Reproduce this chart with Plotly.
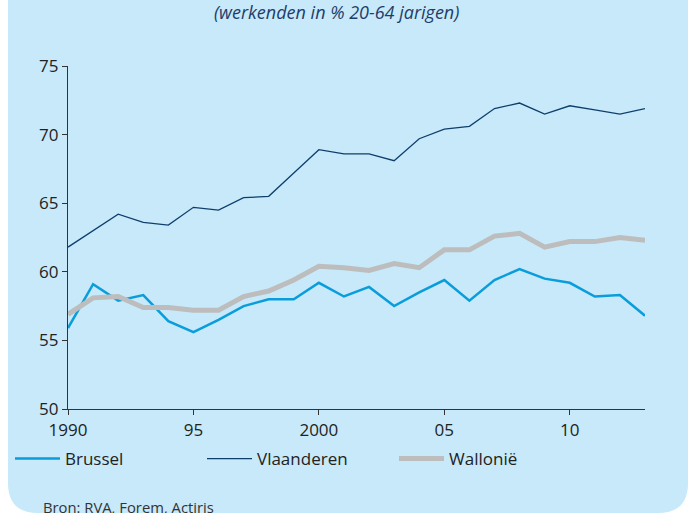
import plotly.graph_objects as go

years = list(range(1990, 2014))
brussel = [55.9, 59.1, 57.9, 58.3, 56.4, 55.6, 56.5, 57.5, 58.0, 58.0, 59.2, 58.2, 58.9, 57.5, 58.5, 59.4,
           57.9, 59.4, 60.2, 59.5, 59.2, 58.2, 58.3, 56.8]
vlaanderen = [61.8, 63.0, 64.2, 63.6, 63.4, 64.7, 64.5, 65.4, 65.5, 67.2, 68.9, 68.6, 68.6, 68.1, 69.7, 70.4,
              70.6, 71.9, 72.3, 71.5, 72.1, 71.8, 71.5, 71.9]
wallonie = [56.9, 58.1, 58.2, 57.4, 57.4, 57.2, 57.2, 58.2, 58.6, 59.4, 60.4, 60.3, 60.1, 60.6, 60.3, 61.6,
            61.6, 62.6, 62.8, 61.8, 62.2, 62.2, 62.5, 62.3]
x_tickvals = [1990, 1995, 2000, 2005, 2010]
x_ticktext = ["1990", "95", "2000", "05", "10"]
y_tickvals = [50, 55, 60, 65, 70, 75]

W, H = 692, 513
L, R, T, B = 68, 47, 66, 104
pw, ph = W - L - R, H - T - B


def px(x):
    return (x - L) / pw


def py(y):
    return (H - B - y) / ph


BG = "#C7E9F9"
FONT = "Open Sans, Noto Sans, sans-serif"

fig = go.Figure()
fig.add_trace(go.Scatter(x=years, y=brussel, name="Brussel", mode="lines",
                         line=dict(color="#0A9DDB", width=2.5)))
fig.add_trace(go.Scatter(x=years, y=vlaanderen, name="Vlaanderen", mode="lines",
                         line=dict(color="#0E3F6C", width=1.3)))
fig.add_trace(go.Scatter(x=years, y=wallonie, name="Wallonië", mode="lines",
                         line=dict(color="#BDBDBD", width=5)))

# rounded background box
x0, x1, y0, y1, r = 8, 688, 0, 513, 30
path = (f"M {px(x0)},{py(y0)} L {px(x1)},{py(y0)} L {px(x1)},{py(y1 - r)} "
        f"Q {px(x1)},{py(y1)} {px(x1 - r)},{py(y1)} L {px(x0 + r)},{py(y1)} "
        f"Q {px(x0)},{py(y1)} {px(x0)},{py(y1 - r)} Z")

fig.update_layout(
    width=W, height=H,
    margin=dict(l=L, r=R, t=T, b=B, autoexpand=False),
    paper_bgcolor="white",
    plot_bgcolor="rgba(0,0,0,0)",
    font=dict(family=FONT, color="#222222"),
    shapes=[dict(type="path", xref="paper", yref="paper", path=path,
                 fillcolor=BG, line=dict(width=0), layer="below")],
    xaxis=dict(range=[1990, 2013], tickvals=x_tickvals, ticktext=x_ticktext,
               showgrid=False, zeroline=False, showline=True, linecolor="#333333",
               linewidth=1.2, ticks="outside", ticklen=5, tickcolor="#333333",
               tickfont=dict(size=17, color="#222222")),
    yaxis=dict(range=[50, 75], tickvals=y_tickvals,
               showgrid=False, zeroline=False, showline=True, linecolor="#333333",
               linewidth=1.2, ticks="outside", ticklen=5, tickcolor="#333333",
               tickfont=dict(size=17, color="#222222")),
    showlegend=True,
    legend=dict(orientation="h", x=px(10), xanchor="left", y=py(459), yanchor="middle",
                bgcolor="rgba(0,0,0,0)", font=dict(size=17, color="#222222"),
                entrywidth=132, entrywidthmode="pixels", itemwidth=45),
    annotations=[
        dict(text="<i>(werkenden in % 20-64 jarigen)</i>", xref="paper", yref="paper",
             x=px(336), y=py(12), xanchor="center", yanchor="middle", showarrow=False,
             font=dict(size=18, color="#1E3D6B")),
        dict(text="Bron: RVA, Forem, Actiris", xref="paper", yref="paper",
             x=px(41), y=py(507), xanchor="left", yanchor="middle", showarrow=False,
             font=dict(size=14.8, color="#333333")),
    ],
)

fig.write_html("out.html", config={"displayModeBar": False},
               post_script="document.body.style.margin='0';document.body.style.padding='0';")
